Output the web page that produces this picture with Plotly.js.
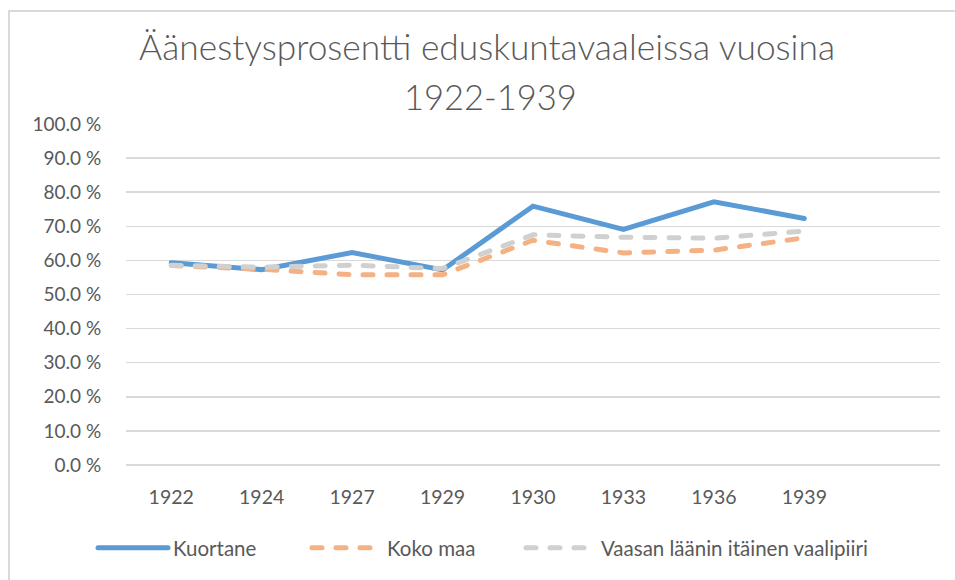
<!DOCTYPE html>
<html>
<head>
<meta charset="utf-8">
<script src="https://cdn.plot.ly/plotly-3.0.1.min.js"></script>
<style>
  html, body { margin: 0; padding: 0; background: #fff; }
  #wrap { position: relative; width: 955px; height: 580px; overflow: hidden; }
  #chart { position: absolute; left: 0; top: 0; width: 955px; height: 580px; }
  #frame { position: absolute; left: 8px; top: 10px; width: 1000px; height: 700px;
           border-left: 2px solid #d9d9d9; border-top: 2px solid #d9d9d9; pointer-events: none; }
</style>
</head>
<body>
<div id="wrap">
  <div id="chart"></div>
  <div id="frame"></div>
</div>
<script>
const years = ["1922", "1924", "1927", "1929", "1930", "1933", "1936", "1939"];
const kuortane = [59.3, 57.3, 62.3, 57.2, 75.9, 69.1, 77.2, 72.3];
const kokoMaa  = [58.5, 57.4, 55.8, 55.8, 65.9, 62.2, 63.0, 66.6];
const vaasan   = [58.6, 58.0, 58.6, 57.6, 67.5, 66.8, 66.5, 68.6];
const seriesNames = ["Kuortane", "Koko maa", "Vaasan läänin itäinen vaalipiiri"];
const titleLine1 = "Äänestysprosentti eduskuntavaaleissa vuosina";
const titleLine2 = "1922-1939";
const yTicks = [0, 10, 20, 30, 40, 50, 60, 70, 80, 90, 100];
const yTickText = yTicks.map(function (v) { return v.toFixed(1) + " %"; });

const FONT = "Lato, 'Open Sans', sans-serif";
const TXT = "#595959";

const traces = [
  { x: years, y: kuortane, name: seriesNames[0], type: "scatter", mode: "lines",
    line: { color: "#5B9BD5", width: 5 } },
  { x: years, y: kokoMaa, name: seriesNames[1], type: "scatter", mode: "lines",
    line: { color: "#F4B183", width: 5, dash: "10px,14px" } },
  { x: years, y: vaasan, name: seriesNames[2], type: "scatter", mode: "lines",
    line: { color: "#D0D0D0", width: 5, dash: "10px,14px" } }
];

const PL = 126, PR = 940, PT = 124, PB = 465;

const layout = {
  width: 955, height: 580,
  margin: { l: PL, r: 955 - PR, t: PT, b: 580 - PB },
  paper_bgcolor: "#ffffff", plot_bgcolor: "#ffffff",
  font: { family: FONT, color: TXT, size: 18 },
  title: { text: titleLine1, font: { family: FONT, size: 35.3, color: TXT, weight: 300 },
           x: 0.51, xref: "container", xanchor: "center",
           y: 1 - 48 / 580, yref: "container", yanchor: "middle" },
  annotations: [
    { text: titleLine2, xref: "paper", yref: "paper",
      x: (490 - PL) / (PR - PL), y: (PB - 96) / (PB - PT),
      showarrow: false, font: { family: FONT, size: 34.5, color: TXT, weight: 300 },
      yanchor: "middle", xanchor: "center" }
  ],
  xaxis: {
    type: "category", categoryorder: "array", categoryarray: years,
    range: [-0.5, 8.5], showgrid: false, zeroline: false, showline: false,
    ticks: "outside", ticklen: 15, tickcolor: "rgba(0,0,0,0)",
    tickfont: { family: FONT, size: 19.5, color: TXT }, fixedrange: true
  },
  yaxis: {
    range: [0, 100], tickmode: "array", tickvals: yTicks, ticktext: yTickText,
    showgrid: true, gridcolor: "#D9D9D9", gridwidth: 1.5,
    zeroline: true, zerolinecolor: "#D9D9D9", zerolinewidth: 1.5,
    showline: false, ticks: "outside", ticklen: 20, tickcolor: "rgba(0,0,0,0)",
    tickfont: { family: FONT, size: 19, color: TXT }, fixedrange: true
  },
  showlegend: true,
  legend: {
    orientation: "h", xref: "container", yref: "container",
    x: 93 / 955, xanchor: "left", y: 1 - 548 / 580, yanchor: "middle",
    font: { family: FONT, size: 20.5, color: TXT },
    itemwidth: 70, entrywidth: 129, entrywidthmode: "pixels", traceorder: "normal"
  }
};

Plotly.newPlot("chart", traces, layout, { displayModeBar: false, staticPlot: true }).then(function (gd) {
  gd.querySelectorAll(".scatterlayer .js-line, .legendlines path").forEach(function (p) {
    p.style.strokeLinecap = "round";
  });
  gd.querySelectorAll(".legend .scrollbox").forEach(function (s) {
    s.removeAttribute("clip-path");
  });
});
</script>
</body>
</html>
